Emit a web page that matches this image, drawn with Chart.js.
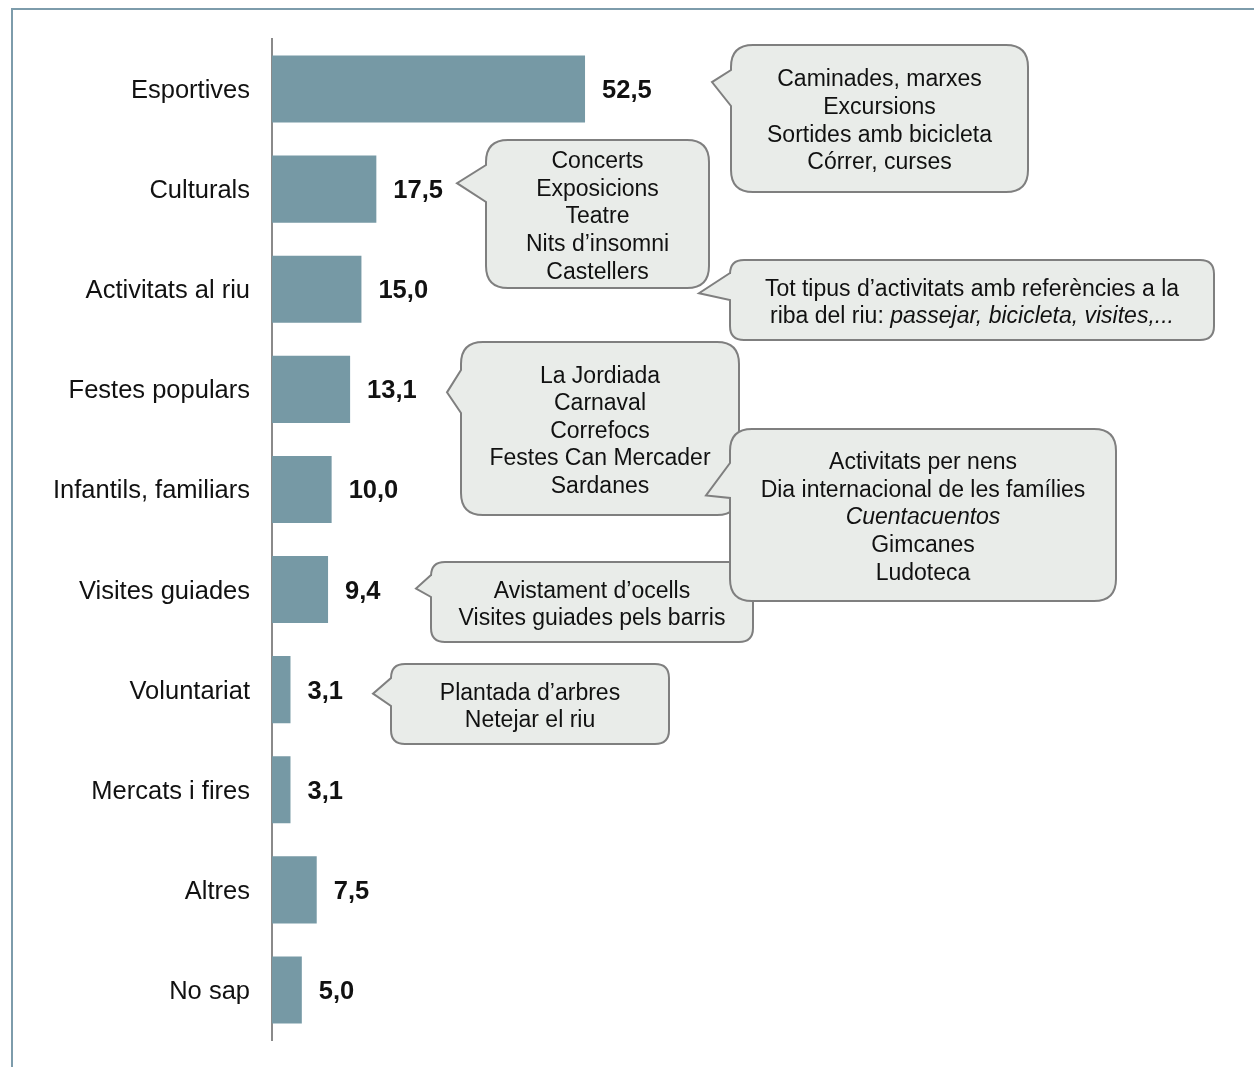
<!DOCTYPE html>
<html>
<head>
<meta charset="utf-8">
<script src="https://cdn.jsdelivr.net/npm/chart.js@4/dist/chart.umd.min.js"></script>
<style>
  html, body { margin: 0; padding: 0; background: #fff; }
  #wrap { position: relative; width: 1254px; height: 1067px; }
</style>
</head>
<body>
<div id="wrap"><canvas id="chart" width="1254" height="1067"></canvas></div>
<script>
// categories and values (% of answers)
const categories = ['Esportives', 'Culturals', 'Activitats al riu', 'Festes populars', 'Infantils, familiars',
  'Visites guiades', 'Voluntariat', 'Mercats i fires', 'Altres', 'No sap'];
const values = [52.5, 17.5, 15.0, 13.1, 10.0, 9.4, 3.1, 3.1, 7.5, 5.0];

// callout texts (*...* = italic)
const notesEsportives = ['Caminades, marxes', 'Excursions', 'Sortides amb bicicleta', 'Córrer, curses'];
const notesCulturals = ['Concerts', 'Exposicions', 'Teatre', 'Nits d\u2019insomni', 'Castellers'];
const notesRiu = ['Tot tipus d\u2019activitats amb referències a la', 'riba del riu: *passejar, bicicleta, visites,...*'];
const notesFestes = ['La Jordiada', 'Carnaval', 'Correfocs', 'Festes Can Mercader', 'Sardanes'];
const notesVisites = ['Avistament d\u2019ocells', 'Visites guiades pels barris'];
const notesInfantils = ['Activitats per nens', 'Dia internacional de les famílies', '*Cuentacuentos*', 'Gimcanes', 'Ludoteca'];
const notesVoluntariat = ['Plantada d\u2019arbres', 'Netejar el riu'];

const FONT = '"Liberation Sans", Arial, sans-serif';
const BAR = '#7699a5';

// callout geometry: box [x1,y1,x2,y2], tip x, tip offset from the category centre, pointer base on box edge
const callouts = [
  { cat: 0, lines: notesEsportives, box: [731, 45, 1028, 192], tipX: 712, dy: -7, base: [70, 106], r: 22 },
  { cat: 1, lines: notesCulturals, box: [486, 140, 709, 288], tipX: 457, dy: -6, base: [165, 202], r: 22 },
  { cat: 2, lines: notesRiu, box: [730, 260, 1214, 340], tipX: 699, dy: 4, base: [273, 300], r: 14 },
  { cat: 3, lines: notesFestes, box: [461, 342, 739, 515], tipX: 447, dy: 3, base: [370, 413], r: 22 },
  { cat: 5, lines: notesVisites, box: [431, 562, 753, 642], tipX: 416, dy: -1, base: [575, 597], r: 14 },
  { cat: 4, lines: notesInfantils, box: [730, 429, 1116, 601], tipX: 706, dy: 6, base: [463, 498], r: 22 },
  { cat: 6, lines: notesVoluntariat, box: [391, 664, 669, 744], tipX: 373, dy: 4, base: [678, 706], r: 14 }
];

function drawCallout(ctx, c, tipY) {
  const [x1, y1, x2, y2] = c.box;
  const r = c.r;
  ctx.beginPath();
  ctx.moveTo(x1 + r, y1);
  ctx.lineTo(x2 - r, y1);
  ctx.quadraticCurveTo(x2, y1, x2, y1 + r);
  ctx.lineTo(x2, y2 - r);
  ctx.quadraticCurveTo(x2, y2, x2 - r, y2);
  ctx.lineTo(x1 + r, y2);
  ctx.quadraticCurveTo(x1, y2, x1, y2 - r);
  ctx.lineTo(x1, c.base[1]);
  ctx.lineTo(c.tipX, tipY);
  ctx.lineTo(x1, c.base[0]);
  ctx.lineTo(x1, y1 + r);
  ctx.quadraticCurveTo(x1, y1, x1 + r, y1);
  ctx.closePath();
  ctx.fillStyle = '#e9ece9';
  ctx.fill();
  ctx.lineWidth = 2;
  ctx.strokeStyle = '#7f7f7f';
  ctx.stroke();

  // text, centred in the box
  const lh = 27.6;
  const cx = (x1 + x2) / 2;
  const cy = (y1 + y2) / 2 + 3;
  const y0 = cy - (c.lines.length - 1) * lh / 2;
  ctx.fillStyle = '#111';
  ctx.textBaseline = 'middle';
  c.lines.forEach((line, i) => {
    const segs = line.split('*').map((t, k) => ({ t, it: k % 2 === 1 })).filter(s => s.t);
    let total = 0;
    segs.forEach(s => {
      ctx.font = (s.it ? 'italic ' : '') + '23px ' + FONT;
      s.w = ctx.measureText(s.t).width;
      total += s.w;
    });
    let x = cx - total / 2;
    segs.forEach(s => {
      ctx.font = (s.it ? 'italic ' : '') + '23px ' + FONT;
      ctx.textAlign = 'left';
      ctx.fillText(s.t, x, y0 + i * lh);
      x += s.w;
    });
  });
}

const decorations = {
  id: 'decorations',
  beforeDraw(chart) {
    const ctx = chart.ctx;
    ctx.save();
    // frame at top and left
    ctx.strokeStyle = '#7d9cab';
    ctx.lineWidth = 2;
    ctx.beginPath();
    ctx.moveTo(12, 1067);
    ctx.lineTo(12, 9);
    ctx.lineTo(1254, 9);
    ctx.stroke();
    ctx.restore();
  },
  afterDraw(chart) {
    const ctx = chart.ctx;
    const meta = chart.getDatasetMeta(0);
    const yScale = chart.scales.y;
    ctx.save();
    // value labels
    ctx.font = 'bold 25.5px ' + FONT;
    ctx.fillStyle = '#111';
    ctx.textAlign = 'left';
    ctx.textBaseline = 'middle';
    meta.data.forEach((bar, i) => {
      ctx.fillText(values[i].toFixed(1).replace('.', ','), bar.x + 17, bar.y + 2);
    });
    // callouts
    callouts.forEach(c => drawCallout(ctx, c, yScale.getPixelForValue(c.cat) + c.dy));
    ctx.restore();
  }
};

new Chart(document.getElementById('chart'), {
  type: 'bar',
  data: {
    labels: categories,
    datasets: [{
      data: values,
      backgroundColor: BAR,
      borderWidth: 0,
      barPercentage: 0.67,
      categoryPercentage: 1
    }]
  },
  options: {
    indexAxis: 'y',
    responsive: false,
    animation: false,
    layout: { padding: { top: 39, bottom: 27, left: 0, right: 28 } },
    scales: {
      x: { display: false, min: 0, max: 160 },
      y: {
        afterFit: (scale) => {
          scale.width = 272;
          scale.paddingTop = 0;
          scale.paddingBottom = 0;
        },
        grid: { display: false, drawTicks: false },
        border: { display: true, color: '#8a8a8a', width: 2 },
        ticks: {
          color: '#111',
          padding: 22,
          labelOffset: 2,
          font: { family: FONT, size: 25.5 }
        }
      }
    },
    plugins: { legend: { display: false }, tooltip: { enabled: false } }
  },
  plugins: [decorations]
});
</script>
</body>
</html>
